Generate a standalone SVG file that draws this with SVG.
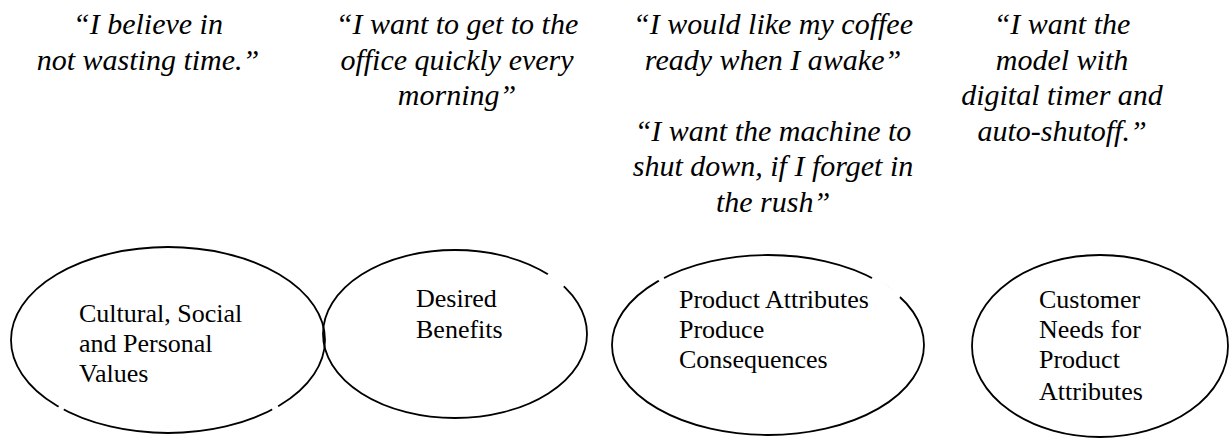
<svg xmlns="http://www.w3.org/2000/svg" width="1230" height="441" viewBox="0 0 1230 441">
  <style>
    .quote { font-family: "Liberation Serif", "Times New Roman", serif; font-style: italic; font-size: 30px; fill: #000; text-anchor: middle; }
    .label { font-family: "Liberation Serif", "Times New Roman", serif; font-size: 26px; fill: #000; }
    .shape { fill: none; stroke: #000; stroke-width: 1.8; }
    .gap { stroke: #fff; stroke-width: 5; stroke-linecap: butt; }
  </style>
  <rect width="1230" height="441" fill="#fff"/>

  <!-- customer quotes, one column per level -->
  <g id="quotes">
    <text id="quote-values" class="quote"><tspan x="148" y="34">“I believe in</tspan><tspan x="148" y="69.5">not wasting time.”</tspan></text>
    <text id="quote-benefits" class="quote"><tspan x="457" y="34">“I want to get to the</tspan><tspan x="457" y="69.5">office quickly every</tspan><tspan x="457" y="105">morning”</tspan></text>
    <text id="quote-consequences-1" class="quote"><tspan x="773" y="34">“I would like my coffee</tspan><tspan x="773" y="69.5">ready when I awake”</tspan></text>
    <text id="quote-consequences-2" class="quote"><tspan x="773" y="140.5">“I want the machine to</tspan><tspan x="773" y="176">shut down, if I forget in</tspan><tspan x="773" y="211.5">the rush”</tspan></text>
    <text id="quote-needs" class="quote"><tspan x="1062" y="34">“I want the</tspan><tspan x="1062" y="69.5">model with</tspan><tspan x="1062" y="105">digital timer and</tspan><tspan x="1062" y="140.5">auto-shutoff.”</tspan></text>
  </g>

  <g id="node-values">
    <ellipse class="shape" cx="168" cy="340" rx="157" ry="93"/>
    <line class="gap" x1="59" y1="406" x2="64" y2="409"/>
    <line class="gap" x1="272" y1="409" x2="278" y2="406"/>
    <text class="label"><tspan x="79" y="322">Cultural, Social</tspan><tspan x="79" y="352">and Personal</tspan><tspan x="79" y="382">Values</tspan></text>
  </g>

  <g id="node-benefits">
    <ellipse class="shape" cx="455" cy="334" rx="132" ry="84"/>
    <line class="gap" x1="548" y1="274" x2="564" y2="286"/>
    <text class="label"><tspan x="416" y="307">Desired</tspan><tspan x="416" y="338">Benefits</tspan></text>
  </g>

  <g id="node-consequences">
    <ellipse class="shape" cx="768" cy="345" rx="156" ry="90"/>
    <line class="gap" x1="659" y1="281" x2="664" y2="278"/>
    <line class="gap" x1="872" y1="278" x2="900" y2="297"/>
    <text class="label"><tspan x="679" y="308">Product Attributes</tspan><tspan x="679" y="338">Produce</tspan><tspan x="679" y="368">Consequences</tspan></text>
  </g>

  <g id="node-needs">
    <ellipse class="shape" cx="1100" cy="346" rx="128" ry="91"/>
    <text class="label"><tspan x="1039" y="308">Customer</tspan><tspan x="1039" y="338">Needs for</tspan><tspan x="1039" y="368">Product</tspan><tspan x="1039" y="400">Attributes</tspan></text>
  </g>

  <g id="connectors"></g>
</svg>
